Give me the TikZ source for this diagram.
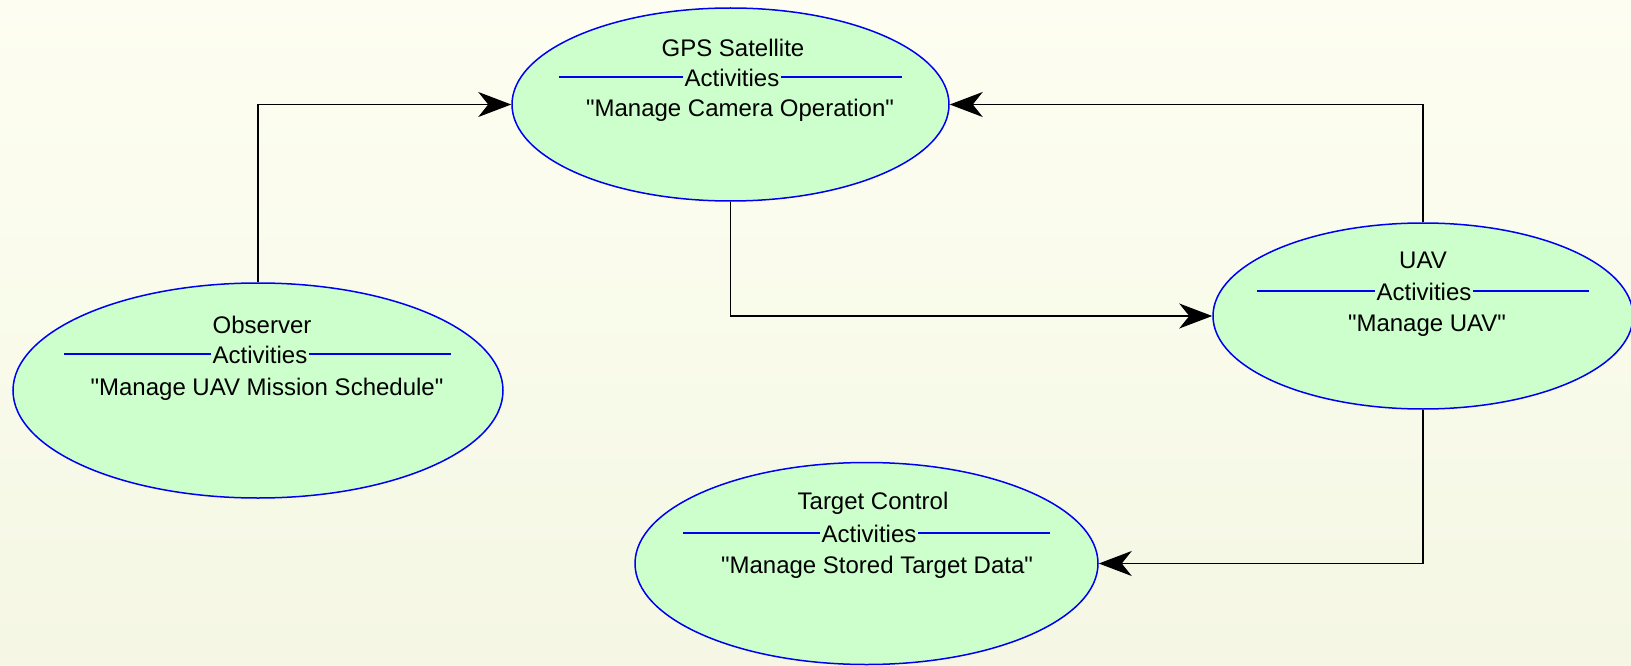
\documentclass[tikz,border=0pt]{standalone}
\usepackage{fontspec}
\setmainfont{Liberation Sans}[Ligatures=TeXOff]
\usetikzlibrary{shapes.geometric,arrows.meta}
\definecolor{bgtop}{RGB}{253,254,241}
\definecolor{bgbot}{RGB}{245,247,228}
\definecolor{actfill}{RGB}{204,255,204}
\definecolor{actline}{RGB}{0,0,240}
\tikzset{
  actnode/.style={ellipse, draw=actline, line width=1.5pt, fill=actfill, inner sep=0pt},
  txt/.style={inner sep=0pt, font=\fontsize{24}{28}\selectfont, text=black},
  acttxt/.style={txt, fill=actfill, inner xsep=1.5pt, inner ysep=1pt},
  sep/.style={draw=actline, line width=1.2pt},
  conn/.style={draw=black, line width=1.5pt, -{Stealth[length=33pt, width=25pt, inset=10pt]}}
}
\begin{document}
\begin{tikzpicture}[x=1pt, y=-1pt]
\useasboundingbox (0,0) rectangle (1631,666);
\shade[top color=bgtop, bottom color=bgbot] (0,0) rectangle (1631,666);

% Activity ellipses
\node[actnode, minimum width=437pt, minimum height=193pt] (gps) at (730.5,104.5) {};
\node[actnode, minimum width=420pt, minimum height=186pt] (uav) at (1423,316) {};
\node[actnode, minimum width=490pt, minimum height=215pt] (obs) at (258,390.5) {};
\node[actnode, minimum width=463pt, minimum height=202pt] (tgt) at (866.5,563.5) {};

% GPS Satellite
\draw[sep] (559,77) -- (902,77);
\node[txt] (gpsname) at (733,47.5) {GPS Satellite};
\node[acttxt] (gpsact) at (732,78) {Activities};
\node[txt] (gpsdo) at (740,110.5) {"Manage Camera Operation"};

% UAV
\draw[sep] (1257,291) -- (1589,291);
\node[txt] (uavname) at (1423,260.5) {UAV};
\node[acttxt] (uavact) at (1424,292) {Activities};
\node[txt] (uavdo) at (1427,325.5) {"Manage UAV"};

% Observer
\draw[sep] (64,354) -- (451,354);
\node[txt] (obsname) at (262,324.5) {Observer};
\node[acttxt] (obsact) at (260,355) {Activities};
\node[txt] (obsdo) at (267,389.5) {"Manage UAV Mission Schedule"};

% Target Control
\draw[sep] (683,533) -- (1050,533);
\node[txt] (tgtname) at (873,503.5) {Target Control};
\node[acttxt] (tgtact) at (869,534) {Activities};
\node[txt] (tgtdo) at (877,567.5) {"Manage Stored Target Data"};

% Connectors
\draw[conn] (obs.north) |- (gps.west);
\draw[conn] (gps.south) |- (uav.west);
\draw[conn] (uav.north) |- (gps.east);
\draw[conn] (uav.south) |- (tgt.east);
\end{tikzpicture}
\end{document}
